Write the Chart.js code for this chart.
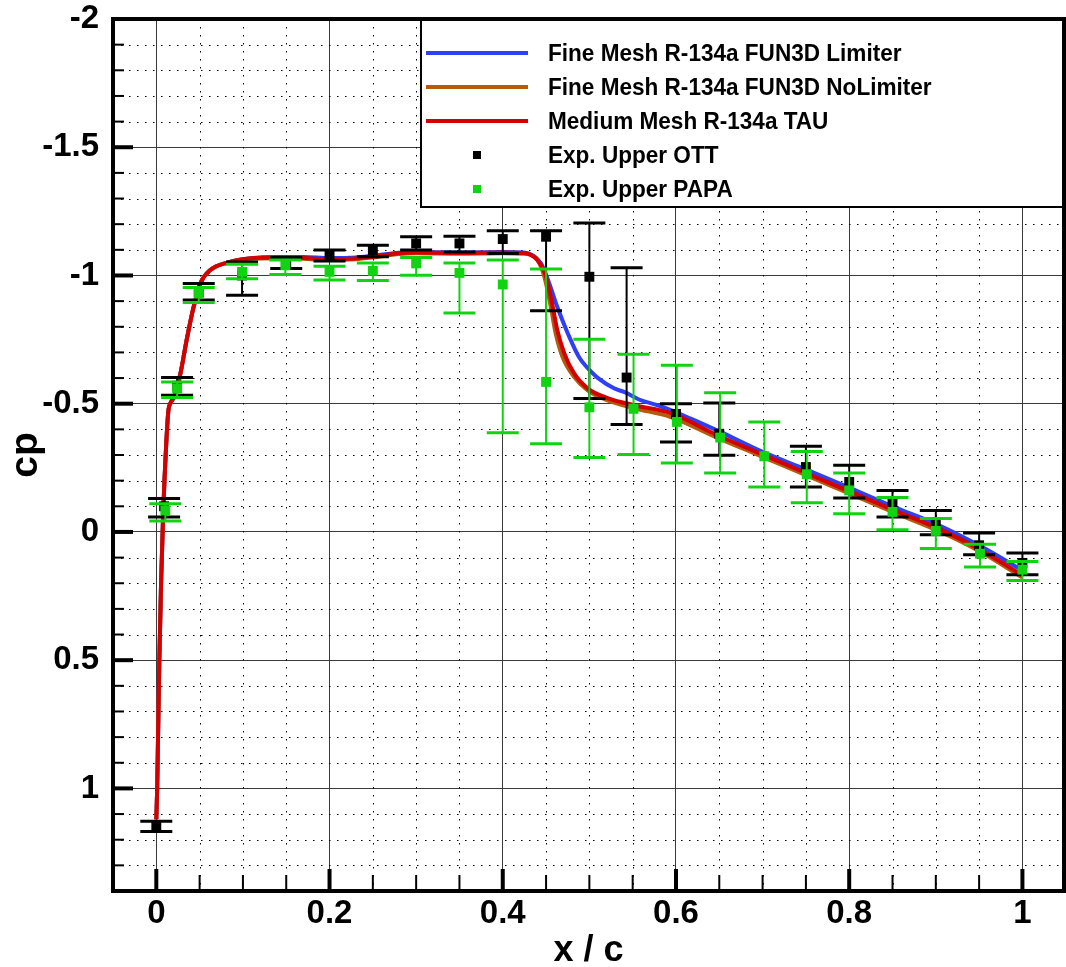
<!DOCTYPE html>
<html><head><meta charset="utf-8">
<script src="https://cdn.jsdelivr.net/npm/chart.js@4/dist/chart.umd.min.js"></script>
<style>html,body{margin:0;padding:0;background:#fff;}canvas{display:block;}</style>
</head><body>
<canvas id="c" width="1066" height="967"></canvas>
<script>
// ---------- tick labels / grid positions ----------
const xTickValues = [0, 0.2, 0.4, 0.6, 0.8, 1];
const xTickLabels = ['0', '0.2', '0.4', '0.6', '0.8', '1'];
const yTickValues = [-2, -1.5, -1, -0.5, 0, 0.5, 1];
const yTickLabels = ['-2', '-1.5', '-1', '-0.5', '0', '0.5', '1'];
const xMinorValues = [-0.05, 0.05, 0.1, 0.15, 0.25, 0.3, 0.35, 0.45, 0.5, 0.55, 0.65, 0.7, 0.75, 0.85, 0.9, 0.95];
const yMinorValues = [-1.9, -1.8, -1.7, -1.6, -1.4, -1.3, -1.2, -1.1, -0.9, -0.8, -0.7, -0.6, -0.4, -0.3, -0.2, -0.1,
                      0.1, 0.2, 0.3, 0.4, 0.6, 0.7, 0.8, 0.9, 1.1, 1.2, 1.3];

// ---------- series: Medium Mesh R-134a TAU ----------
const xTau  = [0, 0.001, 0.002, 0.0035, 0.0055, 0.008, 0.0115, 0.014, 0.016, 0.021, 0.028, 0.035, 0.043, 0.051, 0.062, 0.082, 0.109, 0.14, 0.17, 0.2, 0.23, 0.25, 0.28, 0.3, 0.35, 0.4, 0.424, 0.44, 0.45, 0.457, 0.463, 0.471, 0.482, 0.498, 0.521, 0.552, 0.594, 0.648, 0.702, 0.752, 0.802, 0.852, 0.903, 0.953, 1.0];
const cpTau = [1.12, 1.0, 0.8, 0.5, 0.2, -0.08, -0.346, -0.475, -0.5, -0.53, -0.62, -0.748, -0.876, -0.97, -1.02, -1.05, -1.067, -1.07, -1.068, -1.063, -1.066, -1.073, -1.087, -1.09, -1.088, -1.09, -1.088, -1.06, -0.995, -0.89, -0.787, -0.697, -0.62, -0.56, -0.522, -0.494, -0.463, -0.377, -0.299, -0.227, -0.156, -0.084, -0.013, 0.072, 0.169];

// ---------- series: Fine Mesh R-134a FUN3D Limiter ----------
const xLim  = [0, 0.001, 0.002, 0.0035, 0.0055, 0.008, 0.0115, 0.014, 0.016, 0.021, 0.028, 0.035, 0.043, 0.051, 0.062, 0.082, 0.109, 0.14, 0.17, 0.2, 0.23, 0.25, 0.28, 0.3, 0.35, 0.4, 0.424, 0.444, 0.4536, 0.463, 0.475, 0.488, 0.502, 0.51, 0.529, 0.54, 0.56, 0.579, 0.617, 0.65, 0.7, 0.752, 0.802, 0.852, 0.903, 0.953, 1.0];
const cpLim = [1.12, 1.0, 0.8, 0.5, 0.2, -0.08, -0.346, -0.475, -0.5, -0.53, -0.62, -0.748, -0.876, -0.97, -1.02, -1.05, -1.067, -1.072, -1.072, -1.068, -1.07, -1.077, -1.089, -1.092, -1.09, -1.092, -1.09, -1.048, -0.97, -0.877, -0.775, -0.682, -0.625, -0.6, -0.559, -0.546, -0.513, -0.494, -0.442, -0.392, -0.312, -0.241, -0.17, -0.097, -0.027, 0.058, 0.15];

// ---------- series: Fine Mesh R-134a FUN3D NoLimiter ----------
const xNoLim  = [0, 0.001, 0.002, 0.0035, 0.0055, 0.008, 0.0115, 0.014, 0.016, 0.021, 0.028, 0.035, 0.043, 0.051, 0.062, 0.082, 0.109, 0.14, 0.17, 0.2, 0.23, 0.25, 0.28, 0.3, 0.35, 0.4, 0.424, 0.44, 0.448, 0.4555, 0.461, 0.469, 0.4825, 0.498, 0.521, 0.552, 0.594, 0.648, 0.702, 0.752, 0.802, 0.852, 0.903, 0.953, 1.0];
const cpNoLim = [1.12, 1.0, 0.8, 0.5, 0.2, -0.08, -0.346, -0.475, -0.5, -0.53, -0.62, -0.748, -0.876, -0.97, -1.02, -1.05, -1.065, -1.067, -1.065, -1.06, -1.063, -1.07, -1.084, -1.087, -1.085, -1.087, -1.085, -1.06, -0.995, -0.877, -0.775, -0.682, -0.604, -0.552, -0.513, -0.482, -0.448, -0.367, -0.29, -0.218, -0.147, -0.075, -0.004, 0.08, 0.178];

// ---------- experiment: Exp. Upper OTT ----------
const xOTT    = [0.0, 0.009, 0.024, 0.049, 0.099, 0.15, 0.2, 0.25, 0.3, 0.35, 0.4, 0.45, 0.5, 0.543, 0.6, 0.65, 0.75, 0.8, 0.85, 0.9, 0.95, 1.0];
const cpOTT   = [1.149, -0.1, -0.57, -0.935, -1.0, -1.05, -1.079, -1.099, -1.125, -1.125, -1.142, -1.151, -0.995, -0.602, -0.46, -0.383, -0.253, -0.195, -0.113, -0.032, 0.052, 0.121];
const lowOTT  = [1.128, -0.13, -0.602, -0.969, -1.053, -1.07, -1.099, -1.118, -1.151, -1.153, -1.174, -1.174, -1.205, -1.03, -0.5, -0.503, -0.334, -0.26, -0.162, -0.084, 0.004, 0.082];
const highOTT = [1.168, -0.058, -0.533, -0.904, -0.923, -1.027, -1.056, -1.073, -1.099, -1.092, -1.086, -0.862, -0.52, -0.419, -0.351, -0.299, -0.175, -0.132, -0.058, 0.011, 0.089, 0.167];

// ---------- experiment: Exp. Upper PAPA ----------
const xPAPA    = [0.0104, 0.024, 0.049, 0.099, 0.149, 0.2, 0.25, 0.3, 0.35, 0.4, 0.45, 0.5, 0.551, 0.601, 0.651, 0.702, 0.751, 0.8, 0.85, 0.9, 0.951, 1.0];
const cpPAPA   = [-0.084, -0.559, -0.93, -1.014, -1.04, -1.014, -1.018, -1.047, -1.01, -0.965, -0.585, -0.486, -0.48, -0.429, -0.368, -0.295, -0.225, -0.162, -0.078, -0.004, 0.085, 0.147];
const lowPAPA  = [-0.11, -0.585, -0.953, -1.044, -1.06, -1.036, -1.049, -1.07, -1.049, -1.06, -1.025, -0.751, -0.693, -0.65, -0.543, -0.429, -0.314, -0.23, -0.134, -0.052, 0.048, 0.115];
const highPAPA = [-0.043, -0.524, -0.895, -0.987, -1.004, -0.982, -0.98, -1.001, -0.854, -0.387, -0.344, -0.29, -0.302, -0.269, -0.23, -0.175, -0.114, -0.071, -0.009, 0.065, 0.137, 0.189];

const FONT = '"Liberation Sans", Arial, Helvetica, sans-serif';
const pts = (xs, ys) => xs.map((x, i) => ({ x: x, y: ys[i] }));

function seg(ctx, x1, y1, x2, y2) { ctx.beginPath(); ctx.moveTo(x1, y1); ctx.lineTo(x2, y2); ctx.stroke(); }

const decor = {
  id: 'decor',
  beforeDatasetsDraw(chart) {
    const { ctx, chartArea: a, scales: { x, y } } = chart;
    ctx.save();
    ctx.strokeStyle = '#000';
    ctx.lineWidth = 1;
    ctx.setLineDash([1.5, 6.5]);
    for (const v of xMinorValues) {
      const px = Math.round(x.getPixelForValue(v)) + 0.5;
      seg(ctx, px, a.top, px, a.bottom);
    }
    for (const v of yMinorValues) {
      const py = Math.round(y.getPixelForValue(v)) + 0.5;
      seg(ctx, a.left, py, a.right, py);
    }
    ctx.setLineDash([]);
    // minor tick marks
    ctx.lineWidth = 2;
    for (const v of xMinorValues) {
      const px = x.getPixelForValue(v);
      seg(ctx, px, a.bottom, px, a.bottom - 16);
    }
    for (const v of yMinorValues) {
      const py = y.getPixelForValue(v);
      seg(ctx, a.left, py, a.left + 11, py);
    }
    // major tick marks
    ctx.lineWidth = 4;
    for (const v of xTickValues) {
      const px = x.getPixelForValue(v);
      seg(ctx, px, a.bottom, px, a.bottom - 22);
    }
    for (const v of yTickValues) {
      const py = y.getPixelForValue(v);
      seg(ctx, a.left, py, a.left + 20, py);
    }
    ctx.restore();
  },
  beforeDatasetDraw(chart, args) {
    const ds = chart.data.datasets[args.index];
    if (!ds.errLow) return;
    const { ctx, chartArea: a, scales: { x, y } } = chart;
    ctx.save();
    ctx.beginPath(); ctx.rect(a.left, a.top, a.right - a.left, a.bottom - a.top); ctx.clip();
    ctx.strokeStyle = ds.pointBackgroundColor;
    ds.data.forEach((p, i) => {
      const px = x.getPixelForValue(p.x);
      const y1 = y.getPixelForValue(ds.errLow[i]);
      const y2 = y.getPixelForValue(ds.errHigh[i]);
      ctx.lineWidth = 2;
      seg(ctx, px, y1, px, y2);
      ctx.lineWidth = 3;
      seg(ctx, px - 16, y1, px + 16, y1);
      seg(ctx, px - 16, y2, px + 16, y2);
    });
    ctx.restore();
  },
  afterDatasetsDraw(chart) {
    const { ctx, chartArea: a } = chart;
    ctx.save();
    // legend box
    const bx = 421, by = a.top, bw = a.right - bx, bh = 188;
    ctx.fillStyle = '#fff';
    ctx.fillRect(bx, by, bw, bh);
    ctx.strokeStyle = '#000';
    ctx.lineWidth = 2;
    ctx.strokeRect(bx, by, bw, bh);
    ctx.font = 'bold 24px ' + FONT;
    ctx.textBaseline = 'middle';
    ctx.textAlign = 'left';
    chart.data.datasets.forEach((ds, i) => {
      const cy = by + 34 + i * 34;
      if (ds.showLine) {
        ctx.strokeStyle = ds.borderColor;
        ctx.lineWidth = 4;
        seg(ctx, bx + 5, cy, bx + 107, cy);
      } else {
        ctx.fillStyle = ds.pointBackgroundColor;
        ctx.fillRect(bx + 52, cy - 4, 8, 8);
      }
      ctx.fillStyle = '#000';
      ctx.save();
      ctx.translate(bx + 127, cy + 1);
      ctx.scale(0.94, 1);
      ctx.fillText(ds.label, 0, 0);
      ctx.restore();
    });
    // frame
    ctx.strokeStyle = '#000';
    ctx.lineWidth = 4;
    ctx.strokeRect(a.left, a.top, a.right - a.left, a.bottom - a.top);
    ctx.restore();
  }
};

const noPad = s => { s.paddingTop = 0; s.paddingBottom = 0; s.paddingLeft = 0; s.paddingRight = 0; };

const lineDs = (label, xs, ys, color, order) => ({
  label: label, data: pts(xs, ys), showLine: true, borderColor: color, borderWidth: 4,
  pointRadius: 0, cubicInterpolationMode: 'monotone', order: order, clip: 2
});
const expDs = (label, xs, ys, lo, hi, color, order) => ({
  label: label, data: pts(xs, ys), showLine: false, pointStyle: 'rect', pointRadius: 7,
  pointBorderWidth: 0, pointBackgroundColor: color, borderColor: color,
  errLow: lo, errHigh: hi, order: order
});

new Chart(document.getElementById('c'), {
  type: 'scatter',
  data: {
    datasets: [
      lineDs('Fine Mesh R-134a FUN3D Limiter', xLim, cpLim, '#2f3ff5', 5),
      lineDs('Fine Mesh R-134a FUN3D NoLimiter', xNoLim, cpNoLim, '#b25c0c', 4),
      lineDs('Medium Mesh R-134a TAU', xTau, cpTau, '#d40000', 3),
      expDs('Exp. Upper OTT', xOTT, cpOTT, lowOTT, highOTT, '#000000', 2),
      expDs('Exp. Upper PAPA', xPAPA, cpPAPA, lowPAPA, highPAPA, '#12d312', 1)
    ]
  },
  plugins: [decor],
  options: {
    responsive: false,
    animation: false,
    devicePixelRatio: 1,
    events: [],
    layout: { autoPadding: false, padding: { top: 19, right: 2, left: 0, bottom: 0 } },
    plugins: { legend: { display: false }, tooltip: { enabled: false } },
    scales: {
      x: {
        type: 'linear', min: -0.05, max: 1.048,
        afterBuildTicks: s => { s.ticks = xTickValues.map(v => ({ value: v })); },
        afterFit: s => { s.height = 76; noPad(s); },
        grid: { color: '#3a3a3a', lineWidth: 1, drawTicks: false },
        border: { display: false },
        ticks: {
          color: '#000', padding: 6, maxRotation: 0, autoSkip: false,
          font: { family: FONT, size: 33, weight: 'bold', lineHeight: 1 },
          callback: (v, i) => xTickLabels[i]
        },
        title: {
          display: true, text: 'x / c', color: '#000', padding: 0,
          font: { family: FONT, size: 36, weight: 'bold', lineHeight: 0.9 }
        }
      },
      y: {
        type: 'linear', reverse: true, min: -2, max: 1.4,
        afterBuildTicks: s => { s.ticks = yTickValues.map(v => ({ value: v })); },
        afterFit: s => { s.width = 113; noPad(s); },
        grid: { color: '#3a3a3a', lineWidth: 1, drawTicks: false },
        border: { display: false },
        ticks: {
          color: '#000', padding: 14, autoSkip: false,
          font: { family: FONT, size: 33, weight: 'bold', lineHeight: 1 },
          callback: (v, i) => yTickLabels[i]
        },
        title: {
          display: true, text: 'cp', color: '#000', padding: { top: 3, bottom: 0 },
          font: { family: FONT, size: 39, weight: 'bold', lineHeight: 1.2 }
        }
      }
    }
  }
});
</script>
</body></html>
